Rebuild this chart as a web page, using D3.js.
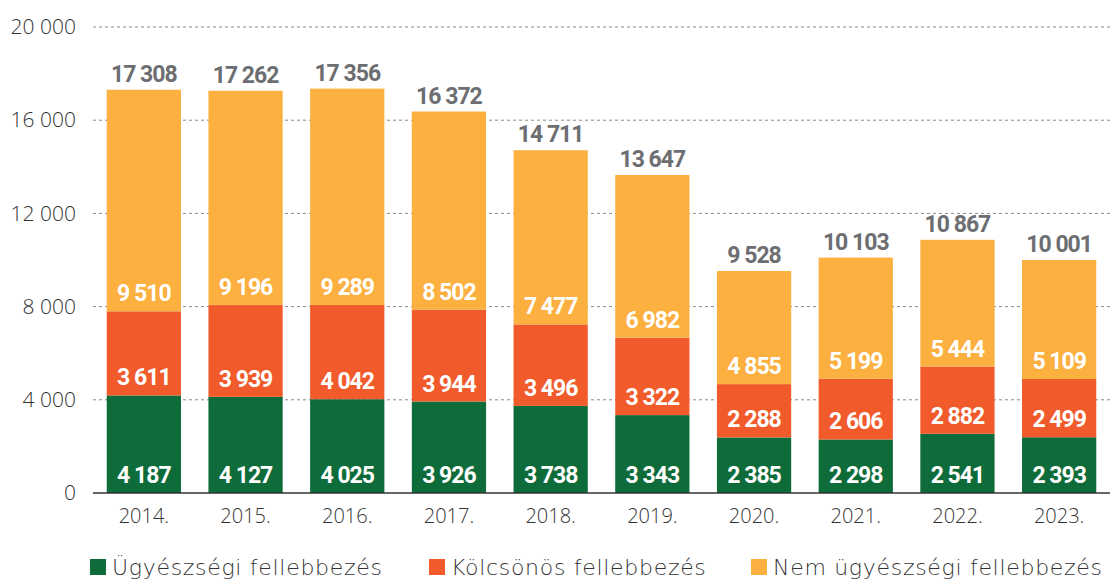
<!DOCTYPE html>
<html>
<head>
<meta charset="utf-8">
<script src="https://cdn.jsdelivr.net/npm/d3@7"></script>
<style>
  body { margin: 0; background: #fff; }
  .tick text { font-family: 'Open Sans', sans-serif; font-weight: 300; fill: #333; }
  .seg-label { font-family: Roboto, sans-serif; font-weight: 700; fill: #fff; letter-spacing: -1px; }
  .total-label { font-family: Roboto, sans-serif; font-weight: 700; fill: #6d6e71; letter-spacing: -1px; }
  .legend text { font-family: 'DejaVu Sans', sans-serif; font-weight: 200; fill: #333; letter-spacing: 0.7px; }
</style>
</head>
<body>
<div id="draw"></div>
<script>
const years = ['2014.', '2015.', '2016.', '2017.', '2018.', '2019.', '2020.', '2021.', '2022.', '2023.']
const ugyeszi = [4187, 4127, 4025, 3926, 3738, 3343, 2385, 2298, 2541, 2393]
const kolcsonos = [3611, 3939, 4042, 3944, 3496, 3322, 2288, 2606, 2882, 2499]
const nemUgyeszi = [9510, 9196, 9289, 8502, 7477, 6982, 4855, 5199, 5444, 5109]
const totals = [17308, 17262, 17356, 16372, 14711, 13647, 9528, 10103, 10867, 10001]
const seriesNames = ['Ügyészségi fellebbezés', 'Kölcsönös fellebbezés', 'Nem ügyészségi fellebbezés']
const yTicks = [0, 4000, 8000, 12000, 16000, 20000]

const colors = ['#0e6b3a', '#f15a2a', '#fbb040']

let width = 1112
let height = 579
let margin = { top: 27, right: 2, bottom: 86, left: 93 }
let innerW = width - margin.left - margin.right
let innerH = height - margin.top - margin.bottom

let fmt = d3.formatLocale({ decimal: ',', thousands: '\u00a0', grouping: [3], currency: ['', ''] }).format(',d')

let rows = years.map(function (y, i) {
  return { year: y, s0: ugyeszi[i], s1: kolcsonos[i], s2: nemUgyeszi[i], total: totals[i] }
})
let stacked = d3.stack().keys(['s0', 's1', 's2'])(rows)

let svg = d3.select('#draw')
  .append('svg')
  .attr('width', width)
  .attr('height', height)
  .append('g')
  .attr('transform', 'translate(' + margin.left + ',' + margin.top + ')')

let x = d3.scaleBand().domain(years).range([0, innerW]).paddingInner(0.27).paddingOuter(0.135)
let y = d3.scaleLinear().domain([0, 20000]).range([innerH, 0])

// gridlines
svg.append('g')
  .selectAll('line')
  .data(yTicks.filter(function (d) { return d > 0 }))
  .enter().append('line')
  .attr('x1', 0)
  .attr('x2', innerW)
  .attr('y1', function (d) { return y(d) })
  .attr('y2', function (d) { return y(d) })
  .attr('stroke', '#8a8a8a')
  .attr('stroke-width', 1)
  .attr('stroke-dasharray', '3,3')

// y axis labels
let yAxis = svg.append('g')
  .call(d3.axisLeft(y).tickValues(yTicks).tickFormat(fmt).tickSize(0).tickPadding(17))
yAxis.select('.domain').remove()
yAxis.selectAll('text').style('font-size', '21px')

// bars
let layer = svg.selectAll('.layer')
  .data(stacked)
  .enter().append('g')
  .attr('class', 'layer')
  .attr('fill', function (d, i) { return colors[i] })

layer.selectAll('rect')
  .data(function (d) { return d })
  .enter().append('rect')
  .attr('x', function (d) { return x(d.data.year) })
  .attr('width', x.bandwidth())
  .attr('y', function (d) { return y(d[1]) })
  .attr('height', function (d) { return y(d[0]) - y(d[1]) })

// baseline
svg.append('line')
  .attr('x1', 0)
  .attr('x2', innerW)
  .attr('y1', y(0))
  .attr('y2', y(0))
  .attr('stroke', '#333')
  .attr('stroke-width', 1.5)

// segment labels, near the bottom of each segment
layer.selectAll('text')
  .data(function (d) { return d })
  .enter().append('text')
  .attr('class', 'seg-label')
  .attr('x', function (d) { return x(d.data.year) + x.bandwidth() / 2 })
  .attr('y', function (d) { return y(d[0]) - 10 })
  .attr('text-anchor', 'middle')
  .style('font-size', '23px')
  .text(function (d) { return fmt(d[1] - d[0]) })

// totals
svg.selectAll('.total-label')
  .data(rows)
  .enter().append('text')
  .attr('class', 'total-label')
  .attr('x', function (d) { return x(d.year) + x.bandwidth() / 2 })
  .attr('y', function (d) { return y(d.total) - 8 })
  .attr('text-anchor', 'middle')
  .style('font-size', '23px')
  .text(function (d) { return fmt(d.total) })

// x axis labels
let xAxis = svg.append('g')
  .attr('transform', 'translate(0,' + innerH + ')')
  .call(d3.axisBottom(x).tickSize(0).tickPadding(16))
xAxis.select('.domain').remove()
xAxis.selectAll('text').style('font-size', '20px')

// legend
let legendX = [-3, 336, 658]
let legend = svg.selectAll('.legend')
  .data(seriesNames)
  .enter().append('g')
  .attr('class', 'legend')
  .attr('transform', function (d, i) { return 'translate(' + legendX[i] + ',' + (innerH + 66) + ')' })

legend.append('rect')
  .attr('width', 16)
  .attr('height', 16)
  .attr('fill', function (d, i) { return colors[i] })

legend.append('text')
  .attr('x', 22)
  .attr('y', 16)
  .style('font-size', '22px')
  .text(function (d) { return d })
</script>
</body>
</html>
